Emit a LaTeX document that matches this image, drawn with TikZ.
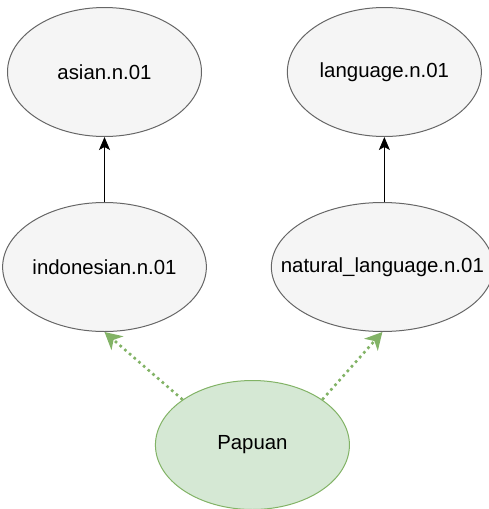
\documentclass[tikz,border=0pt]{standalone}
\usepackage{fontspec}
\setmainfont{Liberation Sans}
\usepackage{xcolor}
\usetikzlibrary{arrows.meta,positioning,shapes.geometric,calc}
\definecolor{wngray}{HTML}{F5F5F5}
\definecolor{wnline}{HTML}{666666}
\definecolor{wngreen}{HTML}{D5E8D4}
\definecolor{wngreenline}{HTML}{82B366}
\tikzset{
  wnnode/.style={
    ellipse,
    draw,
    align=center,
    minimum width=194pt,
    minimum height=129pt,
    inner sep=0pt,
    font=\fontsize{20.4pt}{24pt}\selectfont,
    line width=1pt
  },
  wnsynset/.style={wnnode, fill=wngray, draw=wnline},
  wnterm/.style={wnnode, fill=wngreen, draw=wngreenline},
  wnarrow/.style={-{Stealth[length=13pt,width=11pt,inset=3pt]}, line width=1pt, draw=black},
  wnlink/.style={-{Stealth[length=17pt,width=18pt,inset=5pt]}, line width=2.6pt,
    dash pattern=on 2.6pt off 3.6pt, draw=wngreenline}
}
\begin{document}
\begin{tikzpicture}[x=1pt,y=1pt]
\useasboundingbox (0,0) rectangle (489,-509);
\node[wnsynset] (indonesian) at (104.5,-267) {indonesian.n.01};
\node[wnsynset, above=65pt of indonesian] (asian) {asian.n.01};
\node[wnsynset, right=64pt of indonesian, minimum width=222pt, inner xsep=-30pt] (natural) {natural\_language.n.01};
\node[wnsynset, above=65pt of natural, xshift=2pt, minimum width=194pt, inner xsep=0pt] (language) {language.n.01};
\node[wnterm, below=48pt of $(indonesian.south)!0.5!(natural.south)$, xshift=9pt] (papuan) {Papuan};
\draw[wnarrow] (indonesian) -- (asian);
\draw[wnarrow] (natural.north -| language) -- (language);
\draw[wnlink] (papuan.147) -- (indonesian.south);
\draw[wnlink] (papuan.33) -- (natural.south);
\end{tikzpicture}
\end{document}
